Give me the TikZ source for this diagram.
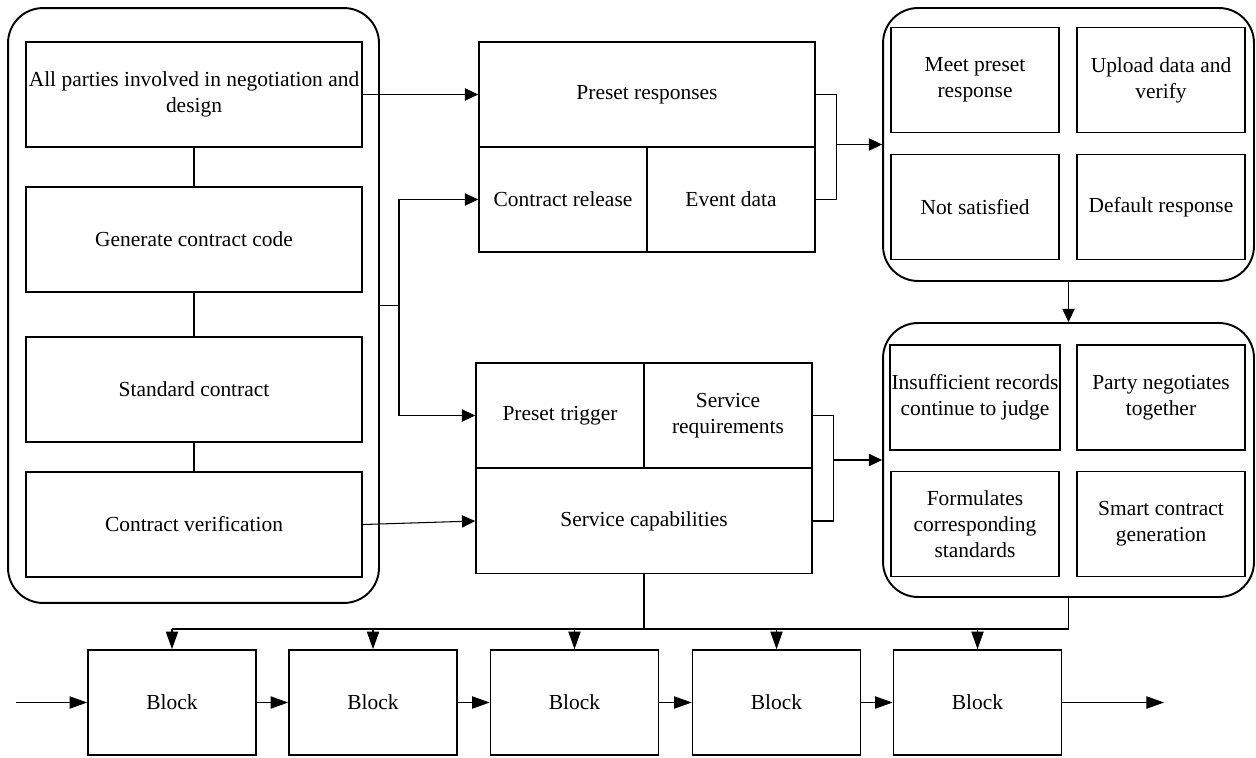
\documentclass[tikz,border=0pt]{standalone}
\usepackage{fontspec}
\setmainfont{Liberation Serif}
\usetikzlibrary{arrows.meta,calc}
\tikzset{
	cell/.style={draw,line width=1pt,minimum width=#1,minimum height=2.1cm,inner sep=1pt,align=center,font=\fontsize{12.2}{14.8}\selectfont},
	cell/.default=3.36cm,
	roundframe/.style={draw,line width=1.1pt,rounded corners=0.7cm,minimum width=7.42cm,minimum height=#1},
	conn/.style={line width=0.6pt},
	arr/.style={conn,-{Triangle[length=7.5pt,width=7pt]}},
	barr/.style={conn,-{Triangle[length=10pt,width=7pt]}}
}
\begin{document}
\begin{tikzpicture}[x=0.02cm,y=-0.02cm]
	\useasboundingbox (0,0) rectangle (1256,757);
	\node[roundframe=11.9cm] (lc) at (193.5,305.5) {};
	\node[roundframe=5.46cm] (rt) at (1068.5,144.5) {};
	\node[roundframe=5.48cm] (rb) at (1068.5,460) {};
	\foreach \Y/\T [count=\i] in {94.5/{All parties involved in negotiation and\\design},239.5/{Generate contract code},389.5/{Standard contract},524.5/{Contract verification}}
		\node[cell=6.72cm] (l\i) at (194,\Y) {\T};
	\foreach \i [count=\j from 2] in {1,2,3}
		\draw[conn] (l\i) -- (l\j);
	\node[cell=6.72cm] (pr) at (647,94.5) {Preset responses};
	\node[cell] (cr) at (563,199.5) {Contract release};
	\node[cell] (ed) at (731,199.5) {Event data};
	\node[cell] (pt) at (560,415.5) {Preset trigger};
	\node[cell] (sr) at (728,415.5) {Service\\requirements};
	\node[cell=6.72cm] (sc) at (644,521) {Service capabilities};
	\node[cell] (mp) at (975,80) {Meet preset\\response};
	\node[cell] (ud) at (1161,80) {Upload data and\\verify};
	\node[cell] (ns) at (975,207) {Not satisfied};
	\node[cell] (dr) at (1161,207) {Default response};
	\node[cell] (ir) at (975,397.5) {Insufficient records\\continue to judge};
	\node[cell] (pn) at (1161,397.5) {Party negotiates\\together};
	\node[cell] (fs) at (975,524) {Formulates\\corresponding\\standards};
	\node[cell] (sg) at (1161,524) {Smart contract\\generation};
	\foreach \X [count=\i] in {172,373,574.5,776.5,977.5}
		\node[cell] (k\i) at (\X,702.5) {Block};
	\coordinate (in) at (16,702.5);
	\coordinate (out) at (1164,702.5);
	\coordinate (bus) at (0,629);
	\coordinate (jn) at (399,305.5);
	\draw[arr] (l1.east) -- (pr.west);
	\draw[conn] (lc.east) -- (jn);
	\draw[arr] (jn) |- (cr.west);
	\draw[arr] (jn) |- (pt.west);
	\draw[arr] (l4.east) -- (sc.west);
	\draw[conn] (pr.east) -- ++(21,0) coordinate (tb) |- (ed.east);
	\draw[arr] (tb |- rt.west) -- (rt.west);
	\draw[conn] (sr.east) -- ++(21,0) coordinate (bb) |- (sc.east);
	\draw[arr] (bb |- rb.west) -- (rb.west);
	\draw[arr] (rt.south) -- (rb.north);
	\draw[conn] (sc.south) -- (sc.south |- bus);
	\draw[conn] (rb.south) |- (k1.north |- bus);
	\foreach \i in {1,...,5}
		\draw[barr] (k\i.north |- bus) -- (k\i.north);
	\draw[barr] (in) -- (k1.west);
	\foreach \i [count=\j from 2] in {1,...,4}
		\draw[barr] (k\i.east) -- (k\j.west);
	\draw[barr] (k5.east) -- (out);
\end{tikzpicture}
\end{document}
